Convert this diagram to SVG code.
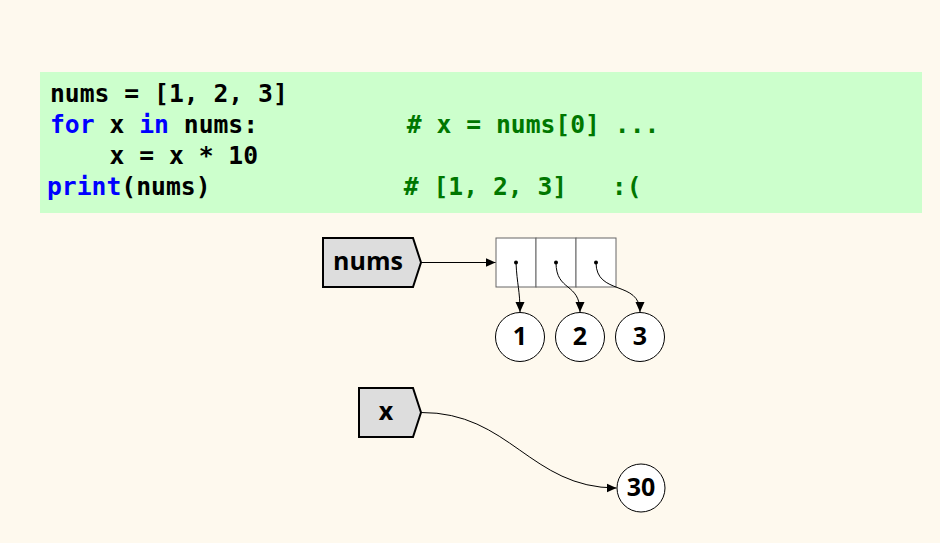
<svg xmlns="http://www.w3.org/2000/svg" width="940" height="543" viewBox="0 0 940 543">
<defs>
<marker id="ah" viewBox="0 0 10 10" refX="10" refY="5" markerWidth="10" markerHeight="10" markerUnits="userSpaceOnUse" orient="auto">
<path d="M0,0.5 L10,5 L0,9.5 z" fill="#000"/>
</marker>
</defs>
<style>
.code{font-family:"DejaVu Sans Mono","Liberation Mono",monospace;font-weight:bold;font-size:24.7px;fill:#000;white-space:pre}
.kw{fill:#0000ff}
.cm{fill:#007700}
.var{fill:#dddddd;stroke:#000;stroke-width:2}
.lbl{font-family:"Open Sans","DejaVu Sans",sans-serif;font-weight:bold;font-size:25px;fill:#000;text-anchor:middle}
.obj{fill:#fff;stroke:#000;stroke-width:1}
.cell{fill:#fff;stroke:#666;stroke-width:1}
.edge{fill:none;stroke:#000;stroke-width:1;marker-end:url(#ah)}
</style>
<rect width="940" height="543" fill="#fef9ee"/>
<g id="code">
<rect x="40" y="72" width="882" height="141" fill="#ccffcc"/>
<text class="code" x="50" y="102" xml:space="preserve">nums = [1, 2, 3]</text>
<text class="code" x="50" y="133" xml:space="preserve"><tspan class="kw">for</tspan> x <tspan class="kw">in</tspan> nums:          <tspan class="cm"># x = nums[0] ...</tspan></text>
<text class="code" x="50" y="164" xml:space="preserve">    x = x * 10</text>
<text class="code" x="47" y="195" xml:space="preserve"><tspan class="kw">print</tspan>(nums)             <tspan class="cm"># [1, 2, 3]   :(</tspan></text>
</g>
<g id="var-nums">
<polygon class="var" points="323,238 413,238 421,262.5 413,287 323,287"/>
<text class="lbl" x="368" y="270">nums</text>
</g>
<g id="list">
<rect class="cell" x="496" y="238" width="40" height="49"/>
<rect class="cell" x="536" y="238" width="40" height="49"/>
<rect class="cell" x="576" y="238" width="40" height="49"/>
<circle cx="516" cy="262.5" r="2" fill="#000"/>
<circle cx="556" cy="262.5" r="2" fill="#000"/>
<circle cx="596" cy="262.5" r="2" fill="#000"/>
</g>
<g id="int-1">
<circle class="obj" cx="520" cy="337" r="24.5"/>
<text class="lbl" x="520" y="344.5">1</text>
</g>
<g id="int-2">
<circle class="obj" cx="580" cy="337" r="24.5"/>
<text class="lbl" x="580" y="344.5">2</text>
</g>
<g id="int-3">
<circle class="obj" cx="640" cy="337" r="24.5"/>
<text class="lbl" x="640" y="344.5">3</text>
</g>
<g id="var-x">
<polygon class="var" points="359,388 413,388 421,412.5 413,437 359,437"/>
<text class="lbl" x="386" y="420">x</text>
</g>
<g id="int-30">
<circle class="obj" cx="641" cy="488" r="24"/>
<text class="lbl" x="641" y="495.5">30</text>
</g>
<g id="connectors">
<path class="edge" d="M421,262.5 L495.5,262.5"/>
<path class="edge" d="M516,262.5 C517,285 520,290 520,312"/>
<path class="edge" d="M556,262.5 C556,292 580,282 580,312"/>
<path class="edge" d="M596,262.5 C596,296 640,280 640,312"/>
<path class="edge" d="M421,412.5 C510,412 530,488 616.5,488"/>
</g>
</svg>
